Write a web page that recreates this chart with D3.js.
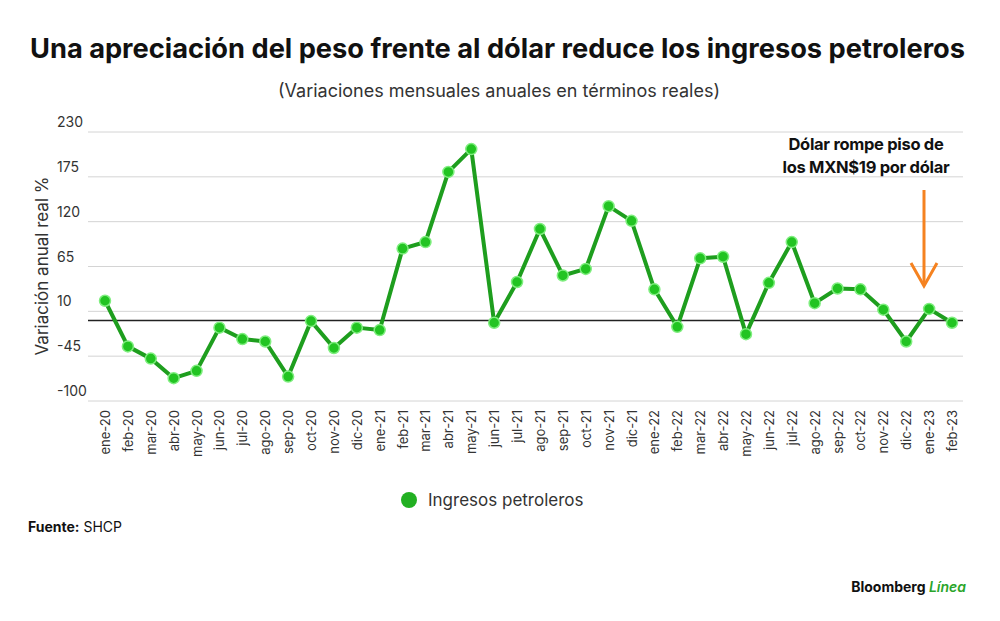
<html>
<head>
<style>
  body { margin: 0; background: #fff; font-family: "Inter", "Roboto", sans-serif; }
</style>
</head>
<body>
<div id="chart"></div>
<script src="https://cdn.jsdelivr.net/npm/d3@7"></script>
<script>
var months = ["ene-20","feb-20","mar-20","abr-20","may-20","jun-20","jul-20","ago-20","sep-20","oct-20","nov-20","dic-20",
  "ene-21","feb-21","mar-21","abr-21","may-21","jun-21","jul-21","ago-21","sep-21","oct-21","nov-21","dic-21",
  "ene-22","feb-22","mar-22","abr-22","may-22","jun-22","jul-22","ago-22","sep-22","oct-22","nov-22","dic-22",
  "ene-23","feb-23"];
var ingresos = [23,-33,-48,-72,-63,-10,-24,-27,-70,-2,-35,-10,
  -13,87,95,181,209,-4,46,111,54,62,139,121,
  37,-9,75,77,-18,45,95,20,38,37,12,-27,
  13,-4];
var yTicks = [230,175,120,65,10,-45,-100];

var W = 1000, H = 621;
var svg = d3.select("#chart").append("svg").attr("width", W).attr("height", H);

var x = d3.scalePoint().domain(months).range([105, 952]);
var y = d3.scaleLinear().domain([-100, 230]).range([401, 132]);

svg.append("text").attr("x", 30).attr("y", 58)
  .attr("font-size", 27).attr("font-weight", 700).attr("fill", "#111")
  .attr("textLength", 935).attr("lengthAdjust", "spacingAndGlyphs")
  .text("Una apreciación del peso frente al dólar reduce los ingresos petroleros");
svg.append("text").attr("x", 499).attr("y", 97).attr("text-anchor", "middle")
  .attr("font-size", 18).attr("fill", "#333")
  .text("(Variaciones mensuales anuales en términos reales)");

// grid
svg.selectAll(".grid").data(yTicks).enter().append("line")
  .attr("x1", 88).attr("x2", 963)
  .attr("y1", d => y(d)).attr("y2", d => y(d))
  .attr("stroke", "#d4d4d4").attr("stroke-width", 1);
svg.selectAll(".ylab").data(yTicks).enter().append("text")
  .attr("x", 57).attr("y", d => y(d) - 5).attr("font-size", 14).attr("fill", "#333")
  .text(d => d);

svg.append("text").attr("transform", "translate(48,266) rotate(-90)")
  .attr("text-anchor", "middle").attr("font-size", 17).attr("fill", "#333")
  .text("Variación anual real %");

// zero line
svg.append("line").attr("x1", 88).attr("x2", 963).attr("y1", y(0) + 1).attr("y2", y(0) + 1)
  .attr("stroke", "#222").attr("stroke-width", 1.5);

// x labels
svg.selectAll(".xlab").data(months).enter().append("text")
  .attr("transform", d => "translate(" + (x(d) + 5) + ",410) rotate(-90)")
  .attr("text-anchor", "end").attr("font-size", 13).attr("fill", "#333")
  .text(d => d);

var line = d3.line().x((d, i) => x(months[i])).y(d => y(d));
svg.append("path").datum(ingresos).attr("d", line)
  .attr("fill", "none").attr("stroke", "#1e9e1e").attr("stroke-width", 4).attr("stroke-linejoin", "round");
svg.selectAll(".pt").data(ingresos).enter().append("circle")
  .attr("cx", (d, i) => x(months[i])).attr("cy", d => y(d)).attr("r", 5.5)
  .attr("fill", "#22c422").attr("stroke", "#7fee7f").attr("stroke-width", 1.5);

// annotation
svg.append("text").attr("text-anchor", "middle")
  .attr("font-size", 16.5).attr("font-weight", 700).attr("fill", "#111").attr("letter-spacing", -0.3)
  .selectAll("tspan").data(["Dólar rompe piso de", "los MXN$19 por dólar"]).enter().append("tspan")
  .attr("x", 866).attr("y", (d, i) => 150 + i * 23).text(d => d);
svg.append("line").attr("x1", 924).attr("x2", 924).attr("y1", 190).attr("y2", 285)
  .attr("stroke", "#f58220").attr("stroke-width", 3);
svg.append("path").attr("d", "M911,263 L924,286 L937,263").attr("fill", "none")
  .attr("stroke", "#f58220").attr("stroke-width", 3);

// legend
svg.append("circle").attr("cx", 409).attr("cy", 500).attr("r", 8).attr("fill", "#22b022");
svg.append("text").attr("x", 428).attr("y", 506).attr("font-size", 17).attr("fill", "#333").text("Ingresos petroleros");

svg.append("text").attr("x", 28).attr("y", 532).attr("font-size", 14).attr("fill", "#111")
  .html('<tspan font-weight="700">Fuente:</tspan> SHCP');
svg.append("text").attr("x", 966).attr("y", 592).attr("text-anchor", "end").attr("font-size", 14).attr("font-weight", 700)
  .attr("fill", "#111").html('Bloomberg <tspan fill="#2aa52a" font-style="italic" font-weight="600">Línea</tspan>');
</script>
</body>
</html>
